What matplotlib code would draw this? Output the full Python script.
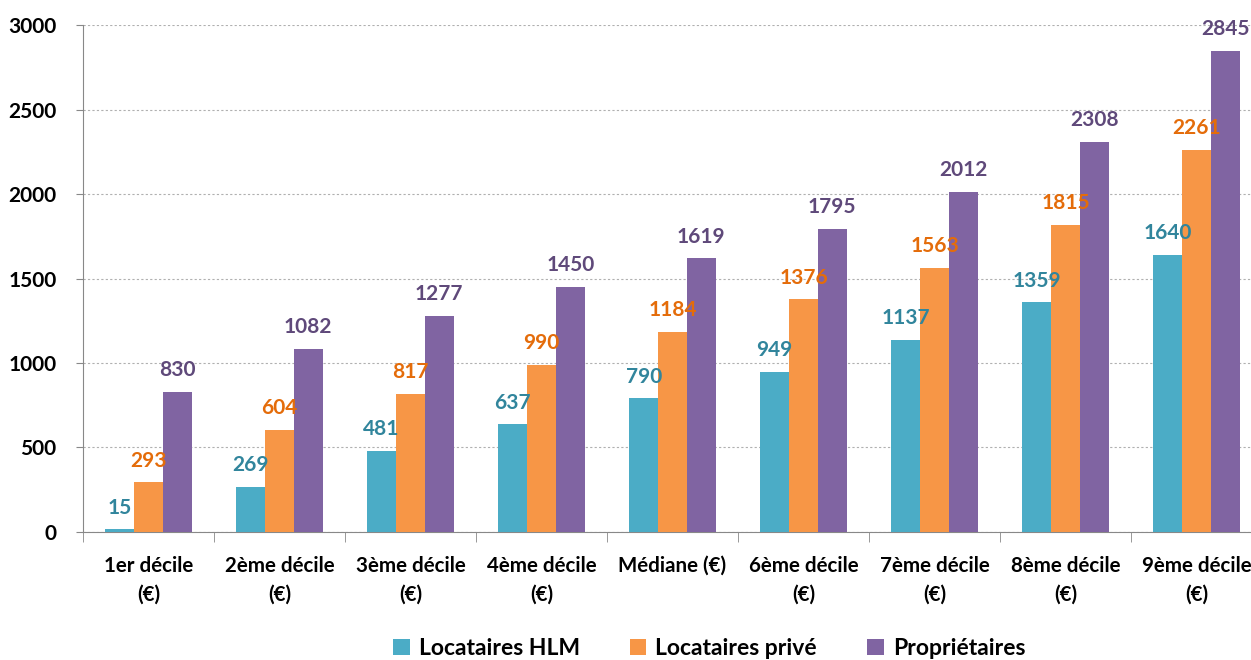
import matplotlib.pyplot as plt
import numpy as np
from matplotlib.ticker import FixedLocator

plt.rcParams['font.family'] = ['Lato', 'DejaVu Sans']

categories = ["1er décile\n(€)", "2ème décile\n(€)", "3ème décile\n(€)",
              "4ème décile\n(€)", "Médiane (€)", "6ème décile\n(€)",
              "7ème décile\n(€)", "8ème décile\n(€)", "9ème décile\n(€)"]
series_names = ["Locataires HLM", "Locataires privé", "Propriétaires"]
hlm = [15, 269, 481, 637, 790, 949, 1137, 1359, 1640]
prive = [293, 604, 817, 990, 1184, 1376, 1563, 1815, 2261]
proprio = [830, 1082, 1277, 1450, 1619, 1795, 2012, 2308, 2845]
y_ticks = [0, 500, 1000, 1500, 2000, 2500, 3000]

bar_colors = ["#4BACC6", "#F79646", "#8064A2"]
label_colors = ["#31859C", "#E46C0A", "#5F497A"]

fig = plt.figure(figsize=(12.51, 6.6), dpi=100)
# axes run slightly past the right edge, as in the cropped original
ax = fig.add_axes([0.0663, 0.194, 0.9425, 0.768])

x = np.arange(len(categories))
w = 0.22
for k, vals in enumerate([hlm, prive, proprio]):
    pos = x + (k - 1) * w
    ax.bar(pos, vals, width=w, color=bar_colors[k],
           label=series_names[k], zorder=3)
    for p, v in zip(pos, vals):
        ax.annotate(str(v), (p, v), xytext=(0, 8.5), textcoords="offset points",
                    ha="center", va="bottom", fontsize=15,
                    fontweight="bold", color=label_colors[k], zorder=4)

ax.set_xlim(-0.5, len(categories) - 0.5)
ax.set_ylim(0, 3000)
ax.set_yticks(y_ticks)
ax.set_yticklabels([str(t) for t in y_ticks], fontsize=15, fontweight="bold")
ax.yaxis.grid(True, linestyle=(0, (2, 2)), color="#b0b0b0", linewidth=0.8, zorder=0)

ax.set_xticks(x)
ax.set_xticklabels(categories, fontsize=14.8, fontweight="bold", linespacing=1.55)
ax.tick_params(axis="x", which="major", length=0, pad=17)
ax.xaxis.set_minor_locator(FixedLocator(np.arange(-0.5, len(categories), 1)))
ax.tick_params(axis="x", which="minor", length=7, color="#888888")
ax.tick_params(axis="y", length=5, color="#888888", pad=14)

for s in ["top", "right"]:
    ax.spines[s].set_visible(False)
for s in ["left", "bottom"]:
    ax.spines[s].set_color("#888888")

fig.legend(loc="center", bbox_to_anchor=(0.567, 0.018), ncol=3, frameon=False,
           prop={"size": 16.5, "weight": "bold"}, handlelength=0.7,
           handleheight=0.7, columnspacing=2.2, handletextpad=0.4)

fig.savefig("out.png", dpi=100)
